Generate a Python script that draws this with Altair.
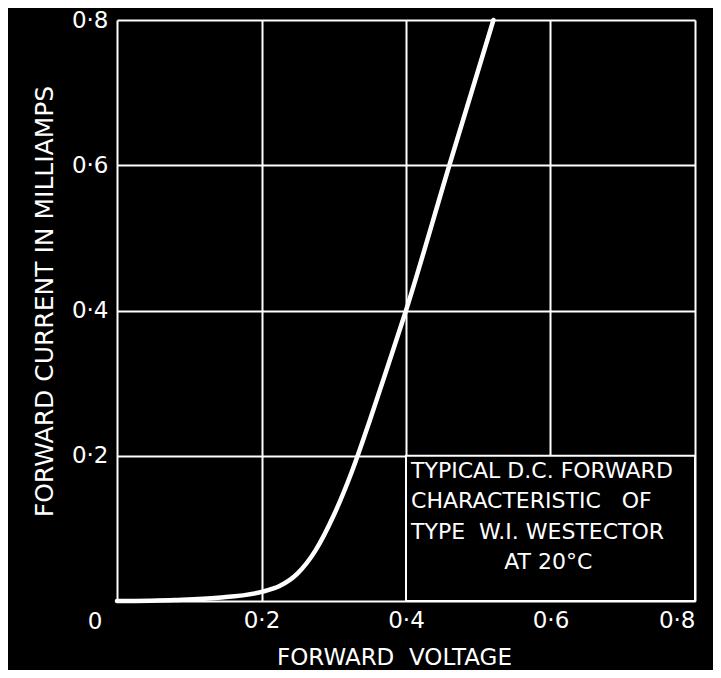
import altair as alt
import pandas as pd

# Curve (forward voltage in V, forward current in mA)
voltage = [0.0, 0.08, 0.14, 0.20, 0.225, 0.25, 0.275, 0.30, 0.325, 0.35, 0.375, 0.40, 0.46, 0.521]
current = [0.0, 0.0015, 0.0045, 0.0125, 0.0205, 0.038, 0.070, 0.118, 0.178, 0.249, 0.324, 0.40, 0.60, 0.80]

tick_values = [0.0, 0.2, 0.4, 0.6, 0.8]

note_lines = ["TYPICAL D.C. FORWARD", "CHARACTERISTIC   OF", "TYPE  W.I. WESTECTOR", "AT 20°C"]
note_x = [0.407, 0.407, 0.407, 0.597]
note_y = [0.179, 0.1377, 0.095, 0.0537]
note_align = ["left", "left", "left", "center"]

box_x = [0.4]
box_x2 = [0.8]
box_y = [0.0]
box_y2 = [0.2]

FONT = "DejaVu Sans"

curve_df = pd.DataFrame({"v": voltage, "i": current})
note_df = pd.DataFrame({"t": [s.replace(" ", "\u00a0") for s in note_lines],
                        "x": note_x, "y": note_y, "a": note_align})
box_df = pd.DataFrame({"x": box_x, "x2": box_x2, "y": box_y, "y2": box_y2})
origin_df = pd.DataFrame({"x": [0.0], "y": [0.0], "t": ["0"]})

label_expr = "datum.value == 0 ? '' : replace(format(datum.value, '.1f'), '.', '·')"

xscale = alt.Scale(domain=[0, 0.8], nice=False, zero=False)
yscale = alt.Scale(domain=[0, 0.8], nice=False, zero=False)

x_axis = alt.Axis(values=tick_values, grid=True, gridColor="white", gridWidth=2, gridOpacity=1,
                  domain=False, ticks=False, labelExpr=label_expr, labelColor="white",
                  labelFont=FONT, labelFontSize=23, labelPadding=8,
                  title="FORWARD\u00a0\u00a0VOLTAGE", titleColor="white", titleFont=FONT,
                  titleFontSize=23, titleFontWeight="normal", titleX=277, titleY=56,
                  titleBaseline="middle", titleAlign="center")
y_axis = alt.Axis(values=tick_values, grid=True, gridColor="white", gridWidth=2, gridOpacity=1,
                  domain=False, ticks=False, labelExpr=label_expr, labelColor="white",
                  labelFont=FONT, labelFontSize=23, labelPadding=9,
                  title="FORWARD CURRENT IN MILLIAMPS", titleColor="white", titleFont=FONT,
                  titleFontSize=25, titleFontWeight="normal", titleX=-73, titleY=281,
                  titleBaseline="middle", titleAlign="center", titleAngle=-90)

curve = alt.Chart(curve_df).mark_line(color="white", strokeWidth=4.5, interpolate="monotone",
                                      strokeCap="round").encode(
    x=alt.X("v:Q", scale=xscale, axis=x_axis),
    y=alt.Y("i:Q", scale=yscale, axis=y_axis),
)

box = alt.Chart(box_df).mark_rect(fill="black", stroke="white", strokeWidth=2).encode(
    x=alt.X("x:Q", scale=xscale), x2="x2:Q",
    y=alt.Y("y:Q", scale=yscale), y2="y2:Q",
)

notes_left = alt.Chart(note_df[note_df.a == "left"]).mark_text(
    color="white", font=FONT, fontSize=22, align="left", baseline="middle").encode(
    x=alt.X("x:Q", scale=xscale), y=alt.Y("y:Q", scale=yscale), text="t:N")
notes_center = alt.Chart(note_df[note_df.a == "center"]).mark_text(
    color="white", font=FONT, fontSize=22, align="center", baseline="middle").encode(
    x=alt.X("x:Q", scale=xscale), y=alt.Y("y:Q", scale=yscale), text="t:N")

origin = alt.Chart(origin_df).mark_text(color="white", font=FONT, fontSize=23, align="center",
                                        baseline="middle", dx=-22, dy=21).encode(
    x=alt.X("x:Q", scale=xscale), y=alt.Y("y:Q", scale=yscale), text="t:N")

chart = alt.layer(curve, box, notes_left, notes_center, origin).properties(
    width=578, height=581,
    padding={"left": 109, "top": 12, "right": 18, "bottom": 69},
    autosize=alt.AutoSizeParams(type="none"),
    background="black",
).configure_view(stroke=None)

chart.save("out.html", embed_options={"renderer": "svg", "actions": False})
